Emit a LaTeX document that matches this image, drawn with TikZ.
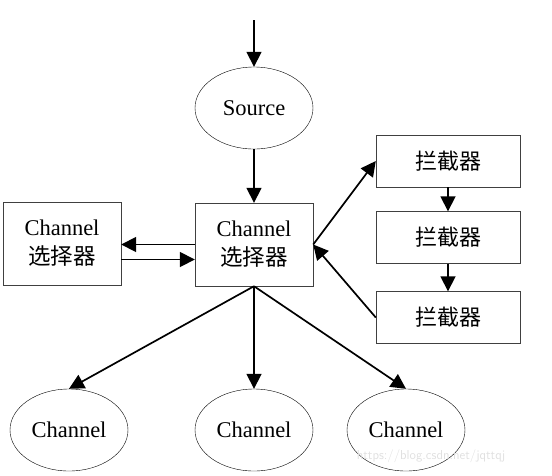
\documentclass[tikz,border=0pt]{standalone}
\usepackage{fontspec}
\setmainfont{Liberation Serif}
\newfontfamily\cjk{Noto Sans CJK SC}
\usepackage{tikz}
\usetikzlibrary{shapes.geometric}
\usetikzlibrary{arrows.meta}
\tikzset{oval/.style={ellipse, draw, thin, minimum width=118pt, minimum height=82pt, inner sep=0pt, font=\fontsize{22.5}{26}\selectfont}}
\tikzset{box/.style={rectangle, draw=black!75, thin, minimum width=118pt, minimum height=83pt, inner sep=0pt, align=center, font=\fontsize{22.5}{29}\selectfont}}
\tikzset{ibox/.style={rectangle, draw=black!75, thin, minimum width=144pt, minimum height=52pt, inner sep=0pt, font=\fontsize{22}{26}\selectfont\cjk}}
\tikzset{arr/.style={-{Triangle[length=15pt,width=15pt]}, line width=1.7pt}}

\begin{document}
\begin{tikzpicture}[x=1pt,y=-1pt]
\useasboundingbox (0,0) rectangle (552,475);
\node[oval] (src) at (254,108) {Source};
\node[box] (mid) at (254,244.5) {Channel\\{\cjk 选择器}};
\node[box] (sel) at (62,243.5) {Channel\\{\cjk 选择器}};
\node[ibox] (i1) at (448,161) {拦截器};
\node[ibox] (i2) at (448,237.5) {拦截器};
\node[ibox] (i3) at (448,317.5) {拦截器};
\node[oval] (c1) at (69,430) {Channel};
\node[oval] (c2) at (254,430) {Channel};
\node[oval] (c3) at (406,430) {Channel};
\coordinate (in) at (254,20);
\draw[arr] (in) -- (src);
\draw[arr] (src) -- (mid);
\draw[arr] (mid.west) -- (sel.east |- mid.west);
\draw[arr] ([yshift=-16pt]sel.east) -- ([yshift=-16pt]sel.east -| mid.west);
\draw[arr] (mid.east) -- (i1.west);
\draw[arr] (i1) -- (i2);
\draw[arr] (i2) -- (i3);
\draw[arr] (i3.west) -- (mid.east);
\foreach \c in {c1,c2,c3}{
\draw[arr] (mid.south) -- (\c.north);
}
\node[text=black!12, font=\sffamily\fontsize{13}{15}\selectfont] (wm) at (431,456) {https://blog.csdn.net/jqttqj};
\end{tikzpicture}
\end{document}
